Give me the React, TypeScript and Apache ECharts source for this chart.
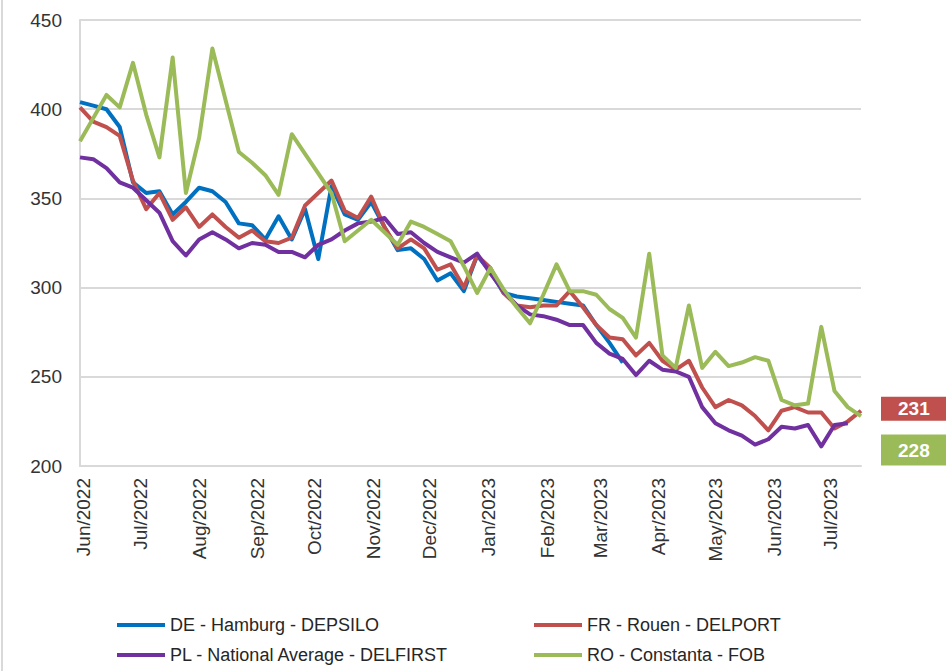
import React, { useEffect, useRef } from "react";
import * as echarts from "echarts";

// ---- Data ----
const FIRST_WEEK = "2022-05-30";
const WEEK_COUNT = 60;

const MONTH_TICKS = [
  "2022-06-01", "2022-07-01", "2022-08-01", "2022-09-01", "2022-10-01",
  "2022-11-01", "2022-12-01", "2023-01-01", "2023-02-01", "2023-03-01",
  "2023-04-01", "2023-05-01", "2023-06-01", "2023-07-01",
];
const MONTH_NAMES = ["Jan", "Feb", "Mar", "Apr", "May", "Jun", "Jul", "Aug", "Sep", "Oct", "Nov", "Dec"];

const Y_MIN = 200;
const Y_MAX = 450;
const Y_STEP = 50;

const SERIES_NAMES = [
  "DE - Hamburg - DEPSILO",
  "FR - Rouen - DELPORT",
  "PL - National Average - DELFIRST",
  "RO - Constanta - FOB",
];

const DE_HAMBURG: (number | null)[] = [
  404, 402, 400, 390, 359, 353, 354, 341, 348, 356,
  354, 348, 336, 335, 327, 340, 327, 344, 316, 357,
  341, 338, 348, 334, 321, 322, 316, 304, 308, 298,
  318, 309, 297, 295, 294, 293, 292, 291, 290, 279,
  269, 258, null, null, null, null, null, null, null, null,
  null, null, null, null, null, null, null, null, null, null,
];
const FR_ROUEN: (number | null)[] = [
  401, 393, 390, 385, 360, 344, 353, 338, 345, 334,
  341, 334, 328, 332, 326, 325, 328, 346, 353, 360,
  343, 339, 351, 334, 322, 327, 322, 310, 313, 300,
  318, 311, 297, 290, 289, 290, 290, 298, 289, 279,
  272, 271, 262, 269, 259, 254, 259, 244, 233, 237,
  234, 228, 220, 231, 233, 230, 230, 221, 225, 231,
];
const PL_NATIONAL: (number | null)[] = [
  373, 372, 367, 359, 356, 349, 342, 326, 318, 327,
  331, 327, 322, 325, 324, 320, 320, 317, 324, 327,
  332, 336, 337, 339, 330, 331, 325, 320, 317, 314,
  319, 308, 298, 290, 285, 284, 282, 279, 279, 269,
  263, 260, 251, 259, 254, 253, 250, 233, 224, 220,
  217, 212, 215, 222, 221, 223, 211, 223, 224, null,
];
const RO_CONSTANTA: (number | null)[] = [
  382, 395, 408, 401, 426, 397, 373, 429, 353, 384,
  434, 405, 376, 370, 363, 352, 386, 375, 364, 353,
  326, 332, 338, 331, 324, 337, 334, 330, 326, 312,
  297, 311, 299, 289, 280, 296, 313, 298, 298, 296,
  288, 283, 272, 319, 262, 255, 290, 255, 264, 256,
  258, 261, 259, 237, 234, 235, 278, 242, 233, 228,
];

const COLORS = ["#0070C0", "#C0504D", "#7030A0", "#9BBB59"];

const DAY_MS = 86400000;

function parseUTC(s: string): number {
  const [y, m, d] = s.split("-").map(Number);
  return Date.UTC(y, m - 1, d);
}

const T0 = parseUTC(FIRST_WEEK);
const dayOffset = (s: string) => Math.round((parseUTC(s) - T0) / DAY_MS);

// week positions as day offsets from the first week
const WEEKS: number[] = Array.from({ length: WEEK_COUNT }, (_, i) => i * 7);

function toPairs(values: (number | null)[]) {
  return WEEKS.map((t, i) => [t, values[i] == null ? "-" : values[i]]);
}

export default function App() {
  const ref = useRef<HTMLDivElement>(null);

  useEffect(() => {
    if (!ref.current) return;
    const chart = echarts.init(ref.current, undefined, { renderer: "svg" });
    const font = "'Liberation Sans', Arial, sans-serif";
    const textColor = "#333333";
    const gridColor = "#D9D9D9";

    const allValues = [DE_HAMBURG, FR_ROUEN, PL_NATIONAL, RO_CONSTANTA];

    const endLabelFor = (idx: number) => {
      if (idx === 1 || idx === 3) {
        return {
          show: true,
          formatter: (p: any) => String(p.value[1]),
          color: "#FFFFFF",
          fontWeight: "bold",
          fontSize: 19,
          fontFamily: font,
          lineHeight: 18,
          backgroundColor: COLORS[idx],
          padding: idx === 1 ? [3, 40, 3, 17] : [6, 40, 7, 17],
          distance: 20,
          offset: idx === 1 ? [0, -2] : [0, 34],
        };
      }
      return { show: false };
    };

    const legendBase = {
      orient: "vertical",
      top: 616,
      padding: 0,
      itemWidth: 48,
      itemHeight: 20,
      itemGap: 12,
      icon: "path://M0,8 L48,8 L48,12 L0,12 Z",
      textStyle: { fontSize: 18, fontFamily: font, color: "#262626" },
    };

    chart.setOption({
      animation: false,
      backgroundColor: "#FFFFFF",
      grid: {
        left: 80,
        right: 85,
        top: 20,
        bottom: 205,
        containLabel: false,
      },
      xAxis: {
        type: "value",
        min: 0,
        max: WEEKS[WEEKS.length - 1],
        axisLine: { show: true, onZero: false, lineStyle: { color: gridColor, width: 2 } },
        axisTick: { show: false },
        splitLine: { show: false },
        axisLabel: {
          customValues: MONTH_TICKS.map(dayOffset),
          rotate: 90,
          margin: 12,
          fontSize: 19,
          fontFamily: font,
          color: textColor,
          formatter: (v: number) => {
            const d = new Date(T0 + v * DAY_MS);
            return `${MONTH_NAMES[d.getUTCMonth()]}/${d.getUTCFullYear()}`;
          },
        },
      },
      yAxis: {
        type: "value",
        min: Y_MIN,
        max: Y_MAX,
        interval: Y_STEP,
        axisLine: { show: true, lineStyle: { color: gridColor, width: 2 } },
        axisTick: { show: false },
        splitLine: { show: true, lineStyle: { color: gridColor, width: 2 } },
        axisLabel: {
          margin: 18,
          fontSize: 19,
          fontFamily: font,
          color: textColor,
        },
      },
      legend: [
        { ...legendBase, left: 117, data: [SERIES_NAMES[0], SERIES_NAMES[2]] },
        { ...legendBase, left: 534, data: [SERIES_NAMES[1], SERIES_NAMES[3]] },
      ],
      graphic: [
        {
          type: "line",
          shape: { x1: 2, y1: 0, x2: 2, y2: 671 },
          style: { stroke: gridColor, lineWidth: 2 },
          silent: true,
        },
      ],
      series: SERIES_NAMES.map((name, i) => ({
        name,
        type: "line",
        data: toPairs(allValues[i]),
        showSymbol: false,
        symbol: "none",
        connectNulls: false,
        color: COLORS[i],
        lineStyle: { color: COLORS[i], width: 4, join: "round" },
        itemStyle: { color: COLORS[i] },
        endLabel: endLabelFor(i),
        z: 2 + i,
      })),
    });

    return () => {
      chart.dispose();
    };
  }, []);

  return (
    <div
      ref={ref}
      style={{ position: "fixed", left: 0, top: 0, width: 946, height: 671, background: "#FFFFFF" }}
    />
  );
}
